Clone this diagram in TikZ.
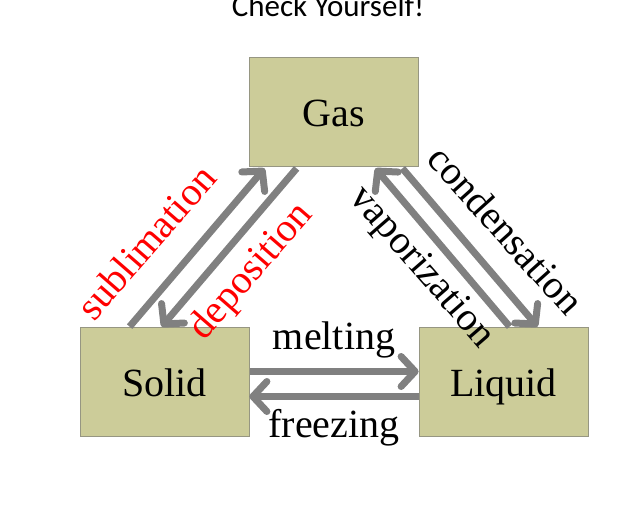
\documentclass[tikz,border=0pt]{standalone}
\usepackage{fontspec}
\setmainfont{Liberation Serif}
\newfontfamily\titlefont{Carlito}
\usetikzlibrary{arrows.meta,calc}
\definecolor{boxfill}{RGB}{204,204,153}
\definecolor{boxline}{RGB}{150,150,130}
\definecolor{arrowgray}{RGB}{128,128,128}
\tikzset{
  phase/.style={draw=boxline, line width=0.8pt, fill=boxfill, minimum width=169pt, minimum height=109pt, inner sep=0pt, text height=34pt, text depth=4pt, font=\fontsize{40}{42}\selectfont},
  conv/.style={draw=arrowgray, line width=7pt, -{Straight Barb[round,length=14pt,width=30pt]}},
  lbl/.style={font=\fontsize{40}{42}\selectfont, inner sep=0pt},
  redlbl/.style={lbl, text=red}
}
\begin{document}
\begin{tikzpicture}[x=1pt,y=-1pt]
\useasboundingbox (0,0) rectangle (643,504);
\node[font=\titlefont\fontsize{31}{33}\selectfont, anchor=base] (title) at (328,16) {Check Yourself!};
\node[phase] (gas) at (333.5,111.5) {Gas};
\node[phase] (solid) at (164.5,381.5) {Solid};
\node[phase] (liquid) at (503.5,381.5) {Liquid};
% diagonal left
\draw[conv] ($(solid.north west)+(50,0)$) -- ($(gas.south west)+(16,2)$);
\draw[conv] ($(gas.south west)+(48,2)$) -- ($(solid.north west)+(82,0)$);
% diagonal right
\draw[conv] ($(liquid.north west)+(91,0)$) -- ($(gas.south east)+(-43,2)$);
\draw[conv] ($(gas.south east)+(-16,2)$) -- ($(liquid.north west)+(119,0)$);
% horizontal
\draw[conv] ($(solid.east)+(1,-10)$) -- ($(liquid.west)+(0,-10)$);
\draw[conv] ($(liquid.west)+(0,15)$) -- ($(solid.east)+(0,15)$);
% labels
\node[redlbl, rotate=49] (subl) at (146,242) {sublimation};
\node[redlbl, rotate=49] (depo) at (252,272) {deposition};
\node[lbl, rotate=-48] (cond) at (506,230) {condensation};
\node[lbl, rotate=-49] (vapo) at (421,268) {vaporization};
\node[lbl] (melt) at (334,340) {melting};
\node[lbl] (freez) at (334,428) {freezing};
\end{tikzpicture}
\end{document}
